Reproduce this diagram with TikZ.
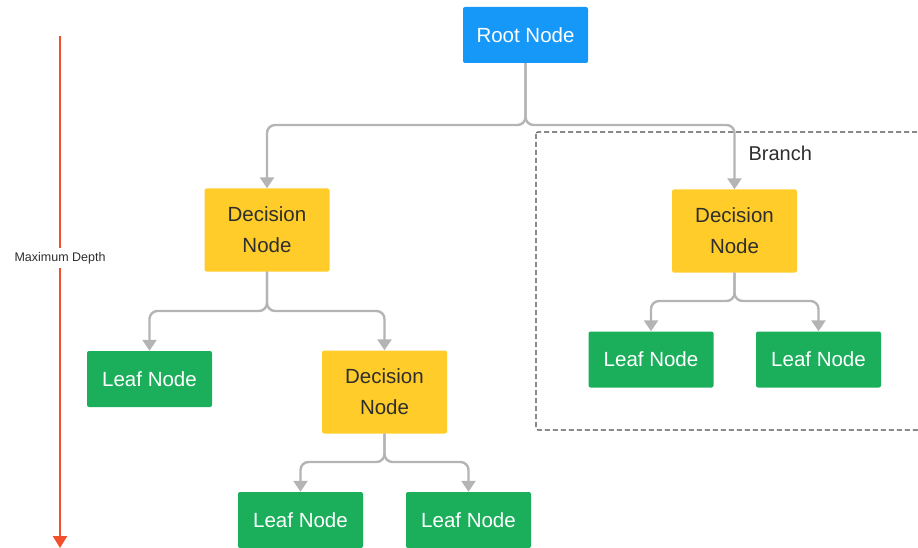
\documentclass[tikz,border=0pt]{standalone}
\usepackage{fontspec}
\setmainfont{Liberation Sans}
\usetikzlibrary{arrows.meta}
\definecolor{rootblue}{HTML}{1698F8}
\definecolor{decyellow}{HTML}{FFCC29}
\definecolor{leafgreen}{HTML}{1BAF5C}
\definecolor{conngray}{HTML}{B4B4B4}
\definecolor{depthred}{HTML}{F2502C}
\definecolor{txtdark}{HTML}{2E2E2E}
\tikzset{
  boxbase/.style={rectangle, rounded corners=2pt, inner sep=0pt, font=\fontsize{20.5}{31}\selectfont, align=center},
  rootbox/.style={boxbase, fill=rootblue, text=white, minimum width=125pt, minimum height=56pt},
  decbox/.style={boxbase, fill=decyellow, text=txtdark, minimum width=125pt, minimum height=83pt},
  leafbox/.style={boxbase, fill=leafgreen, text=white, minimum width=125pt, minimum height=56pt},
  conn/.style={draw=conngray, line width=2.4pt, rounded corners=8pt, -{Triangle[length=11pt,width=14pt]}},
  depth/.style={draw=depthred, line width=2.6pt},
}
\begin{document}
\begin{tikzpicture}[x=1pt,y=-1pt]
\useasboundingbox (0,0) rectangle (918,548);
% branch box
\draw[draw=black!70, line width=1.1pt, dash pattern=on 5pt off 3pt, rounded corners=2pt] (536,132) rectangle (935,430);
\node[anchor=west, font=\fontsize{20}{22}\selectfont, text=txtdark] (branchlbl) at (745,153) {Branch};
% nodes
\node[rootbox] (root) at (525.5,35) {Root Node};
\node[decbox] (d1) at (267,230) {Decision\\Node};
\node[decbox] (d2) at (734.5,231) {Decision\\Node};
\node[leafbox] (l1) at (149.5,379) {Leaf Node};
\node[decbox] (d3) at (384.5,392) {Decision\\Node};
\node[leafbox] (l2) at (651,359.5) {Leaf Node};
\node[leafbox] (l3) at (818.5,359.5) {Leaf Node};
\node[leafbox] (l4) at (300.5,520) {Leaf Node};
\node[leafbox] (l5) at (468.5,520) {Leaf Node};
% junctions
\coordinate (j0) at (525.5,125);
\coordinate (j1) at (267,311);
\coordinate (j2) at (734.5,301);
\coordinate (j3) at (384.5,462);
% connectors
\draw[conn] (root.south) -- (j0) -| (d1.north);
\draw[conn] (root.south) -- (j0) -| (d2.north);
\draw[conn] (d1.south) -- (j1) -| (l1.north);
\draw[conn] (d1.south) -- (j1) -| (d3.north);
\draw[conn] (d2.south) -- (j2) -| (l2.north);
\draw[conn] (d2.south) -- (j2) -| (l3.north);
\draw[conn] (d3.south) -- (j3) -| (l4.north);
\draw[conn] (d3.south) -- (j3) -| (l5.north);
% maximum depth
\node[font=\fontsize{12.5}{14}\selectfont, text=txtdark, inner sep=4pt] (md) at (60,258) {Maximum Depth};
\coordinate (mdtop) at (60,36);
\coordinate (mdbot) at (60,548);
\draw[depth] (mdtop) -- (md.north);
\draw[depth, -{Triangle[length=12pt,width=14pt]}] (md.south) -- (mdbot);
\end{tikzpicture}
\end{document}
